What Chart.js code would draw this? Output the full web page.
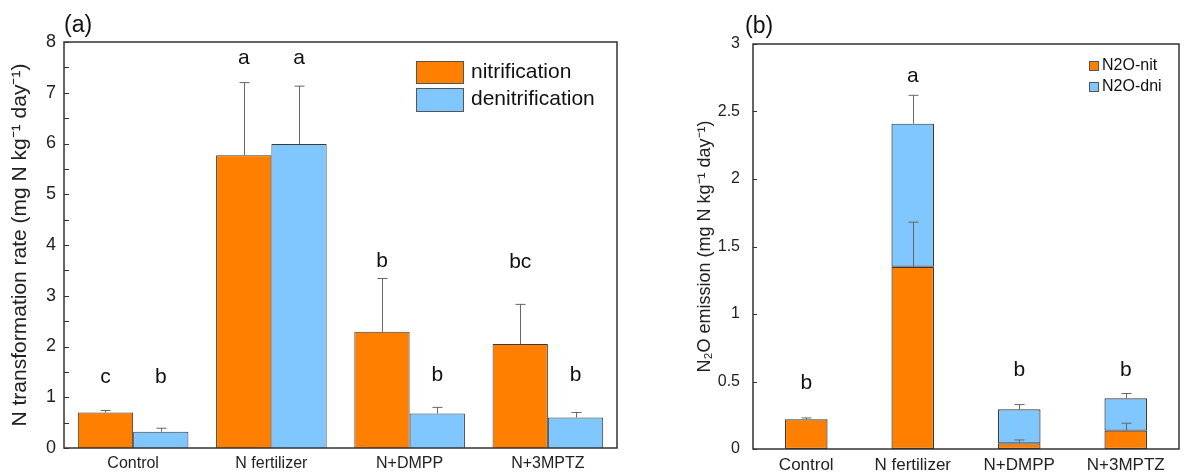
<!DOCTYPE html>
<html>
<head>
<meta charset="utf-8">
<script src="https://cdn.jsdelivr.net/npm/chart.js@4.4.0/dist/chart.umd.min.js"></script>
<style>
  body { margin: 0; background: #fff; }
  .wrap { position: absolute; top: 0; height: 475px; }
  #wa { left: 0; width: 640px; }
  #wb { left: 640px; width: 564px; }
</style>
</head>
<body>
<div class="wrap" id="wa"><canvas id="chart-a"></canvas></div>
<div class="wrap" id="wb"><canvas id="chart-b"></canvas></div>
<script>
const treatments = ['Control', 'N fertilizer', 'N+DMPP', 'N+3MPTZ'];

// panel (a)
const nitrification = [0.70, 5.77, 2.29, 2.05];
const nitrificationErr = [0.04, 1.43, 1.05, 0.78];
const denitrification = [0.32, 5.99, 0.68, 0.60];
const denitrificationErr = [0.07, 1.14, 0.12, 0.10];
const lettersNit = ['c', 'a', 'b', 'bc'];
const lettersDen = ['b', 'a', 'b', 'b'];
const letterPosNit = [1.40, 7.68, 3.68, 3.66];
const letterPosDen = [1.40, 7.68, 1.44, 1.44];

// panel (b)
const n2oNit = [0.22, 1.35, 0.042, 0.136];
const n2oNitErr = [0.01, 0.33, 0.025, 0.055];
const n2oDni = [0.0, 1.06, 0.252, 0.24];
const n2oTotalErr = [0.0, 0.21, 0.035, 0.035];
const lettersB = ['b', 'a', 'b', 'b'];
const letterPosB = [0.49, 2.76, 0.585, 0.585];

const ORANGE = '#ff8000';
const BLUE = '#80c6ff';
const EDGE = '#3a3a3a';
const FONT = 'Liberation Sans, Arial, sans-serif';

// draws frame, inward ticks, error bars, letters and legend
function decorPlugin(cfg) {
  return {
    id: 'decor',
    afterDatasetsDraw(chart) {
      const c = chart.ctx, a = chart.chartArea, y = chart.scales.y;
      c.save();
      // error bars
      c.strokeStyle = '#666';
      c.lineWidth = 1;
      cfg.errors.forEach(e => {
        const el = chart.getDatasetMeta(e.ds).data;
        e.base.forEach((v, i) => {
          if (!e.err[i]) return;
          const x = Math.round(el[i].x) + 0.5;
          const y0 = y.getPixelForValue(v), y1 = y.getPixelForValue(v + e.err[i]);
          c.beginPath();
          c.moveTo(x, y0); c.lineTo(x, y1);
          c.moveTo(x - cfg.cap, y1); c.lineTo(x + cfg.cap, y1);
          c.stroke();
        });
      });
      // letters
      c.fillStyle = '#111';
      c.font = cfg.letterFont;
      c.textAlign = 'center';
      c.textBaseline = 'middle';
      cfg.letters.forEach(l => {
        const el = chart.getDatasetMeta(l.ds).data;
        l.text.forEach((t, i) => c.fillText(t, el[i].x, y.getPixelForValue(l.pos[i])));
      });
      // frame
      c.strokeStyle = '#333';
      c.lineWidth = 1.5;
      c.strokeRect(a.left, a.top, a.right - a.left, a.bottom - a.top);
      // inward ticks
      c.lineWidth = 1;
      for (let v = y.min; v <= y.max + 1e-9; v += cfg.minorStep) {
        const py = Math.round(y.getPixelForValue(v)) + 0.5;
        c.beginPath(); c.moveTo(a.left, py); c.lineTo(a.left + cfg.tickLen, py); c.stroke();
      }
      // legend
      c.font = cfg.legendFont;
      c.textAlign = 'left';
      cfg.legend.forEach(g => {
        c.fillStyle = g.color;
        c.fillRect(g.x, g.y, g.w, g.h);
        c.strokeStyle = '#555';
        c.strokeRect(g.x + 0.5, g.y + 0.5, g.w, g.h);
        c.fillStyle = '#111';
        c.fillText(g.label, g.x + g.w + cfg.legendGap, g.y + g.h / 2);
      });
      c.restore();
    }
  };
}

new Chart(document.getElementById('chart-a'), {
  type: 'bar',
  data: {
    labels: treatments,
    datasets: [
      { label: 'nitrification', data: nitrification, backgroundColor: ORANGE, borderColor: EDGE, borderWidth: 1 },
      { label: 'denitrification', data: denitrification, backgroundColor: BLUE, borderColor: EDGE, borderWidth: 1 }
    ]
  },
  options: {
    responsive: true,
    maintainAspectRatio: false,
    animation: false,
    layout: { padding: { top: 42, right: 23, left: 0, bottom: 0 } },
    datasets: { bar: { categoryPercentage: 0.8, barPercentage: 1.0 } },
    plugins: { legend: { display: false }, tooltip: { enabled: false } },
    scales: {
      x: {
        grid: { display: false, drawTicks: false },
        border: { display: false },
        ticks: { color: '#222', font: { family: FONT, size: 16 }, padding: 6 },
        afterFit: s => { s.height = 27; }
      },
      y: {
        min: 0, max: 8,
        grid: { display: false, drawTicks: false },
        border: { display: false },
        ticks: { stepSize: 1, color: '#222', font: { family: FONT, size: 18 }, padding: 8 },
        title: {
          display: true,
          text: 'N transformation rate (mg N kg\u207B\u00B9 day\u207B\u00B9)',
          color: '#222',
          font: { family: FONT, size: 21 },
          padding: { top: 8, bottom: 0 }
        },
        afterFit: s => { s.width = 64; }
      }
    }
  },
  plugins: [
    decorPlugin({
      cap: 5, tickLen: 5, minorStep: 0.5, legendGap: 8,
      letterFont: '21px ' + FONT,
      legendFont: '21px ' + FONT,
      errors: [
        { ds: 0, base: nitrification, err: nitrificationErr },
        { ds: 1, base: denitrification, err: denitrificationErr }
      ],
      letters: [
        { ds: 0, text: lettersNit, pos: letterPosNit },
        { ds: 1, text: lettersDen, pos: letterPosDen }
      ],
      legend: [
        { color: ORANGE, label: 'nitrification', x: 416, y: 61, w: 47, h: 22 },
        { color: BLUE, label: 'denitrification', x: 416, y: 88, w: 47, h: 23 }
      ]
    }),
    {
      id: 'panelLabel',
      afterDraw(chart) {
        const c = chart.ctx;
        c.save();
        c.font = '23px ' + FONT;
        c.fillStyle = '#111';
        c.textBaseline = 'alphabetic';
        c.fillText('(a)', 64, 32);
        c.restore();
      }
    }
  ]
});

new Chart(document.getElementById('chart-b'), {
  type: 'bar',
  data: {
    labels: treatments,
    datasets: [
      { label: 'N2O-nit', data: n2oNit, backgroundColor: ORANGE, borderColor: EDGE, borderWidth: 1.2, borderSkipped: false },
      { label: 'N2O-dni', data: n2oDni, backgroundColor: BLUE, borderColor: EDGE, borderWidth: 1.2, borderSkipped: false }
    ]
  },
  options: {
    responsive: true,
    maintainAspectRatio: false,
    animation: false,
    layout: { padding: { top: 44, right: 25, left: 0, bottom: 0 } },
    datasets: { bar: { categoryPercentage: 0.4, barPercentage: 1.0 } },
    plugins: { legend: { display: false }, tooltip: { enabled: false } },
    scales: {
      x: {
        stacked: true,
        grid: { display: false, drawTicks: false },
        border: { display: false },
        ticks: { color: '#222', font: { family: FONT, size: 17 }, padding: 6 },
        afterFit: s => { s.height = 26; }
      },
      y: {
        stacked: true,
        min: 0, max: 3,
        grid: { display: false, drawTicks: false },
        border: { display: false },
        ticks: {
          stepSize: 0.5, color: '#222', font: { family: FONT, size: 16 }, padding: 13,
          callback: v => String(v)
        },
        title: {
          display: true,
          text: 'N\u2082O emission (mg N kg\u207B\u00B9 day\u207B\u00B9)',
          color: '#222',
          font: { family: FONT, size: 18 },
          padding: { top: 54, bottom: 0 }
        },
        afterFit: s => { s.width = 113; }
      }
    }
  },
  plugins: [
    decorPlugin({
      cap: 5, tickLen: 4, minorStep: 0.5, legendGap: 4,
      letterFont: '21px ' + FONT,
      legendFont: '16px ' + FONT,
      errors: [
        { ds: 0, base: n2oNit, err: n2oNitErr },
        { ds: 1, base: n2oNit.map((v, i) => v + n2oDni[i]), err: n2oTotalErr }
      ],
      letters: [
        { ds: 1, text: lettersB, pos: letterPosB }
      ],
      legend: [
        { color: ORANGE, label: 'N2O-nit', x: 449, y: 61, w: 9, h: 9 },
        { color: BLUE, label: 'N2O-dni', x: 449, y: 82, w: 9, h: 9 }
      ]
    }),
    {
      id: 'panelLabel',
      afterDraw(chart) {
        const c = chart.ctx;
        c.save();
        c.font = '23px ' + FONT;
        c.fillStyle = '#111';
        c.fillText('(b)', 105, 33);
        c.restore();
      }
    }
  ]
});
</script>
</body>
</html>
